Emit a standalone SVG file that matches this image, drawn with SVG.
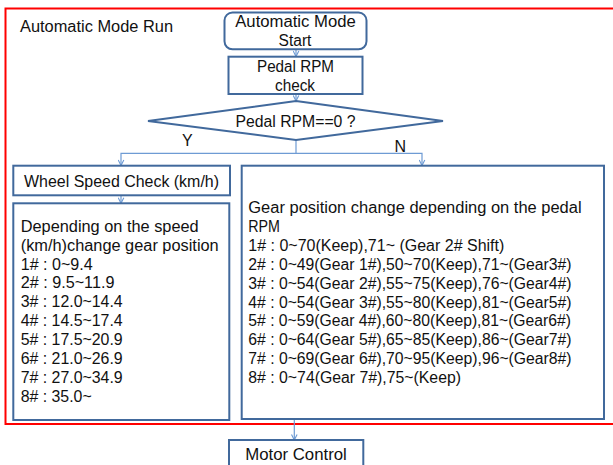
<svg xmlns="http://www.w3.org/2000/svg" width="613" height="465" viewBox="0 0 613 465">
<defs>
<style>
.box{fill:#ffffff;stroke:#41699C;stroke-width:2}
.con{fill:none;stroke:#6E9BD4;stroke-width:1.2}
.t{font-family:"Liberation Sans","Noto Sans",Arial,sans-serif;font-size:16px;fill:#111111}
.c{text-anchor:middle}
</style>
<marker id="ah" viewBox="0 0 10 10" refX="9" refY="5" markerWidth="7" markerHeight="7" markerUnits="userSpaceOnUse" orient="auto">
<path d="M1,1 L9,5 L1,9" fill="none" stroke="#6E9BD4" stroke-width="1.6"/>
</marker>
</defs>
<rect width="613" height="465" fill="#ffffff"/>
<g id="frame">
<rect x="5.5" y="8.5" width="630" height="415.5" fill="none" stroke="#FF0000" stroke-width="2"/>
<text class="t" x="20" y="32.3" textLength="153" lengthAdjust="spacingAndGlyphs">Automatic Mode Run</text>
</g>
<g id="connectors">
<line class="con" x1="296" y1="49.3" x2="296" y2="56.5" marker-end="url(#ah)"/>
<line class="con" x1="296" y1="94" x2="296" y2="101" marker-end="url(#ah)"/>
<polyline class="con" points="296,140 296,153.3 121,153.3 121,165.5" marker-end="url(#ah)"/>
<polyline class="con" points="296,153.3 422,153.3 422,165.5" marker-end="url(#ah)"/>
<line class="con" x1="121" y1="195.3" x2="121" y2="203.3" marker-end="url(#ah)"/>
<line class="con" x1="294.3" y1="419" x2="294.3" y2="440" marker-end="url(#ah)"/>
<text class="t" x="182" y="146">Y</text>
<text class="t" x="394.5" y="151.7">N</text>
</g>
<g id="start">
<rect class="box" x="224.5" y="12.5" width="142" height="36.8" rx="8"/>
<text class="t c" x="295.5" y="26.7" textLength="120.5" lengthAdjust="spacingAndGlyphs">Automatic Mode</text>
<text class="t c" x="295" y="45.7" textLength="32.8" lengthAdjust="spacingAndGlyphs">Start</text>
</g>
<g id="pedal-check">
<rect class="box" x="228.5" y="56.7" width="134" height="37.3"/>
<text class="t c" x="295.5" y="71.7" textLength="77" lengthAdjust="spacingAndGlyphs">Pedal RPM</text>
<text class="t c" x="295" y="90.7" textLength="40" lengthAdjust="spacingAndGlyphs">check</text>
</g>
<g id="decision">
<polygon class="box" points="296,101 443,121 296,140 148,121"/>
<text class="t c" x="295.5" y="126.7" textLength="120" lengthAdjust="spacingAndGlyphs">Pedal RPM==0 ?</text>
</g>
<g id="wheel-speed">
<rect class="box" x="13.3" y="165.7" width="216.7" height="29.6"/>
<text class="t" x="24" y="186.7" textLength="195" lengthAdjust="spacingAndGlyphs">Wheel Speed Check (km/h)</text>
</g>
<g id="speed-table">
<rect class="box" x="13.3" y="203.3" width="216" height="216.7"/>
<text class="t" x="20.7" y="231.7" textLength="178" lengthAdjust="spacingAndGlyphs">Depending on the speed</text>
<text class="t" x="20.7" y="250.6" textLength="198" lengthAdjust="spacingAndGlyphs">(km/h)change gear position</text>
<text class="t" x="20.7" y="269.5" textLength="72" lengthAdjust="spacingAndGlyphs">1# : 0~9.4</text>
<text class="t" x="20.7" y="288.4" textLength="93.7" lengthAdjust="spacingAndGlyphs">2# : 9.5~11.9</text>
<text class="t" x="20.7" y="307.3" textLength="102" lengthAdjust="spacingAndGlyphs">3# : 12.0~14.4</text>
<text class="t" x="20.7" y="326.2" textLength="102" lengthAdjust="spacingAndGlyphs">4# : 14.5~17.4</text>
<text class="t" x="20.7" y="345.1" textLength="102" lengthAdjust="spacingAndGlyphs">5# : 17.5~20.9</text>
<text class="t" x="20.7" y="364" textLength="102" lengthAdjust="spacingAndGlyphs">6# : 21.0~26.9</text>
<text class="t" x="20.7" y="382.9" textLength="102" lengthAdjust="spacingAndGlyphs">7# : 27.0~34.9</text>
<text class="t" x="20.7" y="401.8" textLength="71" lengthAdjust="spacingAndGlyphs">8# : 35.0~</text>
</g>
<g id="rpm-table">
<rect class="box" x="241.7" y="165.7" width="362.3" height="253.3"/>
<text class="t" x="248.3" y="213" textLength="333.3" lengthAdjust="spacingAndGlyphs">Gear position change depending on the pedal</text>
<text class="t" x="248.3" y="231.9" textLength="31.7" lengthAdjust="spacingAndGlyphs">RPM</text>
<text class="t" x="248.3" y="250.8" textLength="256" lengthAdjust="spacingAndGlyphs">1# : 0~70(Keep),71~ (Gear 2# Shift)</text>
<text class="t" x="248.3" y="269.7" textLength="323.3" lengthAdjust="spacingAndGlyphs">2# : 0~49(Gear 1#),50~70(Keep),71~(Gear3#)</text>
<text class="t" x="248.3" y="288.6" textLength="323.3" lengthAdjust="spacingAndGlyphs">3# : 0~54(Gear 2#),55~75(Keep),76~(Gear4#)</text>
<text class="t" x="248.3" y="307.5" textLength="323.3" lengthAdjust="spacingAndGlyphs">4# : 0~54(Gear 3#),55~80(Keep),81~(Gear5#)</text>
<text class="t" x="248.3" y="326.4" textLength="322.7" lengthAdjust="spacingAndGlyphs">5# : 0~59(Gear 4#),60~80(Keep),81~(Gear6#)</text>
<text class="t" x="248.3" y="345.3" textLength="323.3" lengthAdjust="spacingAndGlyphs">6# : 0~64(Gear 5#),65~85(Keep),86~(Gear7#)</text>
<text class="t" x="248.3" y="364.2" textLength="323.3" lengthAdjust="spacingAndGlyphs">7# : 0~69(Gear 6#),70~95(Keep),96~(Gear8#)</text>
<text class="t" x="248.3" y="383.1" textLength="212.7" lengthAdjust="spacingAndGlyphs">8# : 0~74(Gear 7#),75~(Keep)</text>
</g>
<g id="motor-control">
<rect class="box" x="229" y="440" width="134.3" height="40"/>
<text class="t c" x="296" y="460" textLength="101.7" lengthAdjust="spacingAndGlyphs">Motor Control</text>
</g>
</svg>
